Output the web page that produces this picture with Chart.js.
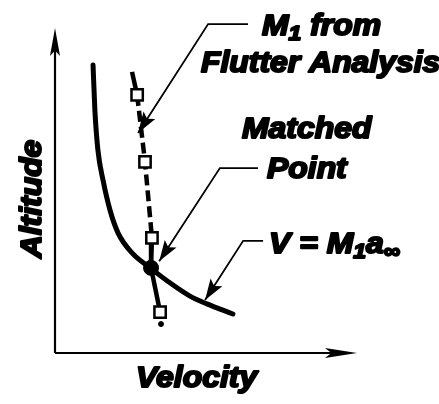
<!DOCTYPE html>
<html>
<head>
<meta charset="utf-8">
<script src="https://cdn.jsdelivr.net/npm/chart.js@4"></script>
<style>
  html, body { margin: 0; padding: 0; background: #fff; }
  canvas { display: block; }
</style>
</head>
<body>
<canvas id="flutterChart" width="439" height="404"></canvas>
<script>
// Values, arbitrary units (0-10 on both axes).
const curveVelocity = [1.26, 1.32, 1.42, 1.59, 1.82, 2.09, 2.55, 3.15, 3.91, 4.47, 5.03, 5.89];
const curveAltitude = [8.86, 7.48, 6.25, 5.32, 4.40, 3.69, 3.08, 2.62, 2.09, 1.75, 1.51, 1.20];

const flutterVelocity = [2.55, 2.72, 2.98, 3.21, 3.18, 3.48];
const flutterAltitude = [8.65, 7.94, 5.88, 3.54, 2.62, 1.26];

const matchedVelocity = [3.18];
const matchedAltitude = [2.62];

const tailVelocity = [3.51];
const tailAltitude = [0.89];

// Leader lines: label end -> elbow -> arrow tip.
const leaderFlutterX = [6.39, 5.07, 2.75];
const leaderFlutterY = [10.12, 10.12, 6.77];
const leaderMatchedX = [6.72, 5.46, 3.45];
const leaderMatchedY = [5.69, 5.69, 2.82];
const leaderCurveX = [6.89, 6.23, 4.97];
const leaderCurveY = [3.45, 3.45, 1.63];

const axisTitles = ['Velocity', 'Altitude'];

function pts(xs, ys) {
  return xs.map((x, i) => ({ x, y: ys[i] }));
}

function leader(xs, ys) {
  return {
    data: pts(xs, ys),
    showLine: true,
    borderColor: '#000',
    borderWidth: 1.8,
    pointRadius: 0,
    tension: 0,
    clip: false,
    leader: true
  };
}

const FONT = '"Liberation Sans", Arial, sans-serif';
const STRETCH = 1.1;

function drawRich(ctx, parts, x, y, size) {
  ctx.save();
  ctx.translate(x, y);
  ctx.scale(STRETCH, 1);
  ctx.fillStyle = '#000';
  ctx.strokeStyle = '#000';
  ctx.lineWidth = 2;
  ctx.lineJoin = 'round';
  ctx.textBaseline = 'alphabetic';
  let cx = 0;
  for (const p of parts) {
    const fs = p.sub ? size * 0.72 : size;
    ctx.font = `italic bold ${fs}px ${FONT}`;
    const dy = p.sub ? size * 0.18 : 0;
    ctx.fillText(p.t, cx, dy);
    ctx.strokeText(p.t, cx, dy);
    cx += ctx.measureText(p.t).width;
  }
  ctx.restore();
}

function arrowHead(ctx, fromX, fromY, tipX, tipY, len, half) {
  const ang = Math.atan2(tipY - fromY, tipX - fromX);
  ctx.save();
  ctx.translate(tipX, tipY);
  ctx.rotate(ang);
  ctx.beginPath();
  ctx.moveTo(0, 0);
  ctx.lineTo(-len, -half);
  ctx.lineTo(-len * 0.8, 0);
  ctx.lineTo(-len, half);
  ctx.closePath();
  ctx.fillStyle = '#000';
  ctx.fill();
  ctx.restore();
}

const sketchPlugin = {
  id: 'sketch',
  beforeDatasetsDraw(chart) {
    const { ctx, chartArea: a } = chart;
    ctx.save();
    ctx.strokeStyle = '#000';
    ctx.lineWidth = 2.2;
    ctx.beginPath();
    ctx.moveTo(a.left, a.bottom);
    ctx.lineTo(a.left, a.top + 10);
    ctx.moveTo(a.left, a.bottom);
    ctx.lineTo(a.right - 10, a.bottom);
    ctx.stroke();
    ctx.restore();
    arrowHead(ctx, a.left, a.bottom, a.left, a.top, 28, 5);
    arrowHead(ctx, a.left, a.bottom, a.right, a.bottom, 32, 5);
  },
  afterDatasetsDraw(chart) {
    const { ctx } = chart;
    chart.data.datasets.forEach((ds, i) => {
      if (!ds.leader) return;
      const el = chart.getDatasetMeta(i).data;
      const p0 = el[el.length - 2];
      const p1 = el[el.length - 1];
      arrowHead(ctx, p0.x, p0.y, p1.x, p1.y, 21, 7);
    });

    const s = 29;
    drawRich(ctx, [{ t: 'M' }, { t: '1', sub: true }, { t: ' from' }], 262, 35, s);
    drawRich(ctx, [{ t: 'Flutter Analysis' }], 201, 72, s);
    drawRich(ctx, [{ t: 'Matched' }], 242, 138, s);
    drawRich(ctx, [{ t: 'Point' }], 267, 178, s);
    drawRich(ctx, [{ t: 'V = M' }, { t: '1', sub: true }, { t: 'a' }, { t: '\u221E', sub: true }], 269, 253, s);
    drawRich(ctx, [{ t: axisTitles[0] }], 136, 387, s);

    ctx.save();
    ctx.translate(41, 199);
    ctx.rotate(-Math.PI / 2);
    ctx.font = `italic bold ${s}px ${FONT}`;
    const w = ctx.measureText(axisTitles[1]).width * STRETCH;
    drawRich(ctx, [{ t: axisTitles[1] }], -w / 2, 0, s);
    ctx.restore();
  }
};

new Chart(document.getElementById('flutterChart').getContext('2d'), {
  type: 'scatter',
  data: {
    datasets: [
      {
        data: pts(curveVelocity, curveAltitude),
        showLine: true,
        borderColor: '#000',
        borderWidth: 5,
        borderCapStyle: 'round',
        pointRadius: 0,
        cubicInterpolationMode: 'monotone'
      },
      {
        data: pts(flutterVelocity, flutterAltitude),
        showLine: true,
        borderColor: '#000',
        borderWidth: 4.5,
        pointRadius: [0, 8, 8, 8, 0, 8],
        pointStyle: 'rect',
        pointBackgroundColor: '#fff',
        pointBorderColor: '#000',
        pointBorderWidth: 2.5,
        tension: 0,
        segment: {
          borderDash: c => (c.p0DataIndex === 1 || c.p0DataIndex === 2) ? [11, 5] : []
        }
      },
      {
        data: pts(matchedVelocity, matchedAltitude),
        pointRadius: 7.5,
        pointBackgroundColor: '#000',
        pointBorderColor: '#000'
      },
      {
        data: pts(tailVelocity, tailAltitude),
        pointRadius: 2.5,
        pointBackgroundColor: '#000',
        pointBorderColor: '#000'
      },
      leader(leaderFlutterX, leaderFlutterY),
      leader(leaderMatchedX, leaderMatchedY),
      leader(leaderCurveX, leaderCurveY)
    ]
  },
  options: {
    responsive: false,
    animation: false,
    layout: { padding: { left: 55, right: 82, top: 28, bottom: 51 } },
    plugins: { legend: { display: false }, tooltip: { enabled: false } },
    scales: {
      x: { type: 'linear', min: 0, max: 10, display: false },
      y: { type: 'linear', min: 0, max: 10, display: false }
    }
  },
  plugins: [sketchPlugin]
});
</script>
</body>
</html>
